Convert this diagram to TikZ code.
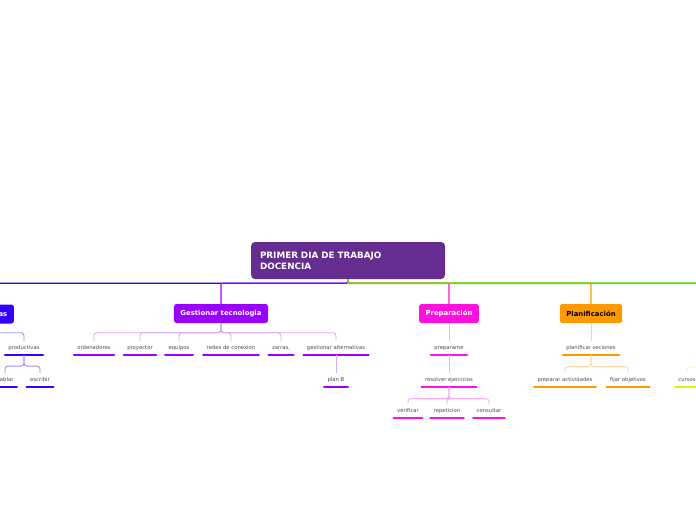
\documentclass[tikz,border=0pt]{standalone}
\usepackage{fontspec}
\setmainfont{DejaVu Sans}
\usepackage{tikz}

\definecolor{rootcol}{HTML}{662D91}
\definecolor{bluecol}{HTML}{3300FF}
\definecolor{bluelt}{HTML}{9A8CFF}
\definecolor{purpcol}{HTML}{9900FF}
\definecolor{purplt}{HTML}{D6A8FF}
\definecolor{pinkcol}{HTML}{FF11DD}
\definecolor{pinklt}{HTML}{FFA8F0}
\definecolor{orancol}{HTML}{FF9900}
\definecolor{oranlt}{HTML}{FFD49C}
\definecolor{limecol}{HTML}{CCFF00}
\definecolor{limelt}{HTML}{EEFF99}
\definecolor{greencol}{HTML}{55DD11}

\tikzset{
    topic/.style={fill=#1, rounded corners=2.5pt, text=white,
        font=\bfseries\fontsize{6.9}{8}\selectfont,
        minimum height=19pt, inner xsep=6.5pt},
    leaf/.style={font=\fontsize{5.3}{6}\selectfont, text=black!70,
        inner xsep=4.5pt, inner ysep=4.5pt, text height=3.8pt, text depth=1pt,
        append after command={(\tikzlastnode.south west)
            edge[draw=#1, line width=2.6pt, line cap=round,
                 shorten <=1.3pt, shorten >=1.3pt] (\tikzlastnode.south east)}},
    mainlink/.style={draw=#1, line width=1.1pt, rounded corners=2pt},
    sublink/.style={draw=#1, line width=0.9pt, rounded corners=3pt}
}

\begin{document}
\begin{tikzpicture}[x=1pt, y=-1pt]
    \useasboundingbox (0,0) rectangle (696,520);
    \clip (0,0) rectangle (696,520);

    % root
    \node [fill=rootcol, rounded corners=4pt, text=white, minimum width=194pt,
           minimum height=37pt, text width=176pt, align=left,
           font=\bfseries\fontsize{8.8}{11}\selectfont]
        (root) at (348,260.5) {PRIMER DIA DE TRABAJO\\DOCENCIA};

    % main topics
    \node [topic=bluecol] (dest) at (-12,314) {Destrezas};
    \node [topic=purpcol] (tecno) at (221,313.5) {Gestionar tecnologia};
    \node [topic=pinkcol] (prep) at (449,313.5) {Preparación};
    \node [topic=orancol, text=black] (plan) at (591,313.5) {Planificación};
    \coordinate (lime) at (740,304);
    \coordinate (limebot) at (740,323);

    % Now draw the main lines:
    \draw [mainlink=bluecol!85!black] (root.south) -- ++(0,4) -| (dest.north);
    \draw [mainlink=purpcol]  (root.south) -- ++(0,4) -| (tecno.north);
    \draw [mainlink=pinkcol]  (root.south) -- ++(0,4) -| (prep.north);
    \draw [mainlink=orancol]  (root.south) -- ++(0,4) -| (plan.north);
    \draw [mainlink=greencol, line width=1.6pt] (root.south) -- ++(0,4) -| (lime);

    % Destrezas
    \node [leaf=bluecol] (produc) at (24,348) {productivas};
    \node [leaf=bluecol] (hablar) at (5,380) {hablar};
    \node [leaf=bluecol] (escrib) at (40,380) {escribir};
    \draw [sublink=bluelt] (dest.south) -- ++(0,9) -| (produc.north);
    \draw [sublink=bluelt] (produc.south) -- ++(0,11) -| (hablar.north);
    \draw [sublink=bluelt] (produc.south) -- ++(0,11) -| (escrib.north);

    % Gestionar tecnologia
    \node [leaf=purpcol] (orden)  at (94,348)  {ordenadores};
    \node [leaf=purpcol] (proyec) at (140,348) {proyector};
    \node [leaf=purpcol] (equipo) at (179,348) {equipos};
    \node [leaf=purpcol] (redes)  at (231,348) {redes de conexion};
    \node [leaf=purpcol] (zarras) at (281,348) {zarras,};
    \node [leaf=purpcol] (altern) at (336,348) {gestionar alternativas};
    \node [leaf=purpcol] (planb)  at (336,380) {plan B};
    \foreach \n in {orden, proyec, equipo, redes, zarras, altern}
        \draw [sublink=purplt] (tecno.south) -- ++(0,9.5) -| (\n.north);
    \draw [sublink=purplt] (altern.south) -- (planb.north);

    % Preparacion
    \node [leaf=pinkcol] (prepme) at (449,348) {preparame};
    \node [leaf=pinkcol] (resolv) at (449,380) {resolver ejercicios};
    \node [leaf=pinkcol] (verif)  at (408,411) {verificar};
    \node [leaf=pinkcol] (repet)  at (447,411) {repeticion};
    \node [leaf=pinkcol] (consul) at (489,411) {consultar};
    \draw [sublink=pinklt] (prep.south) -- (prepme.north);
    \draw [sublink=pinklt] (prepme.south) -- (resolv.north);
    \foreach \n in {verif, repet, consul}
        \draw [sublink=pinklt] (resolv.south) -- ++(0,11.5) -| (\n.north);

    % Planificacion
    \node [leaf=orancol] (sesion) at (591,348) {planificar seciones};
    \node [leaf=orancol] (activ)  at (565,380) {preparar actividades};
    \node [leaf=orancol] (objet)  at (628,380) {fijar objetivos};
    \draw [sublink=oranlt] (plan.south) -- (sesion.north);
    \foreach \n in {activ, objet}
        \draw [sublink=oranlt] (sesion.south) -- ++(0,11.5) -| (\n.north);

    % lime topic (off the page)
    \node [leaf=limecol] (cursos) at (687,380) {cursos};
    \draw [sublink=limelt] (limebot) -- ++(0,44) -| (cursos.north);
\end{tikzpicture}
\end{document}
